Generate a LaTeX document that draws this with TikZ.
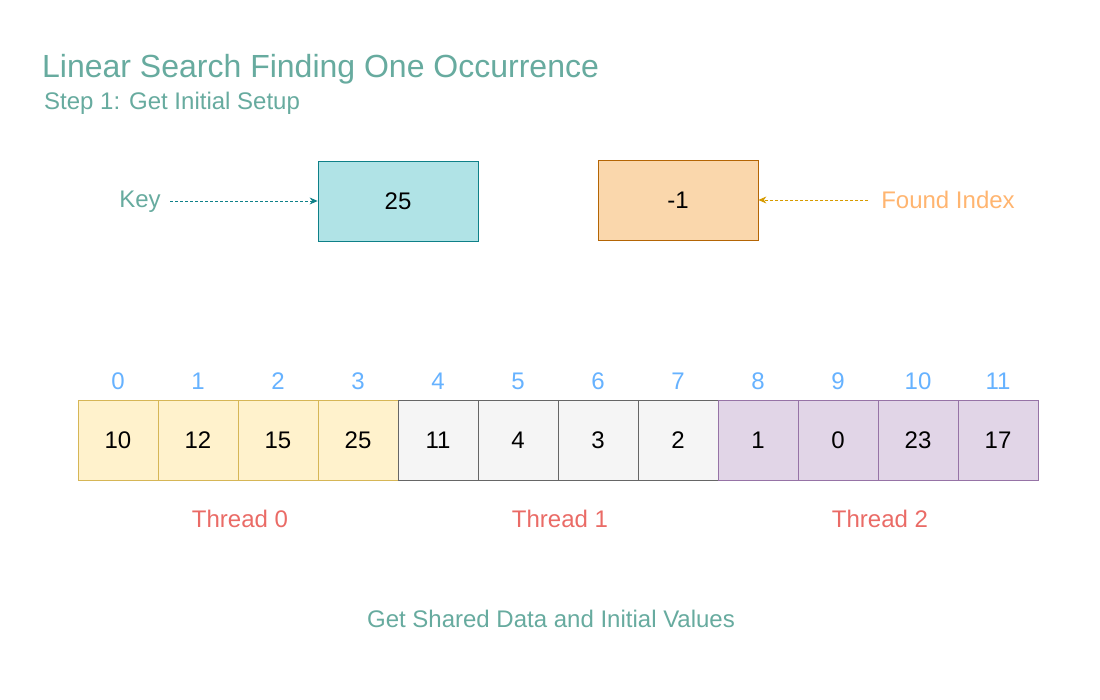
\documentclass[tikz,border=0pt]{standalone}
\usepackage{fontspec}
\setmainfont{Liberation Sans}
\usetikzlibrary{arrows.meta}
\definecolor{titlegreen}{HTML}{67AB9F}
\definecolor{idxblue}{HTML}{66B2FF}
\definecolor{thrred}{HTML}{EA6B66}
\definecolor{foundorange}{HTML}{FFB570}
\definecolor{keyfill}{HTML}{B0E3E6}
\definecolor{keydraw}{HTML}{0E8088}
\definecolor{fndfill}{HTML}{FAD7AC}
\definecolor{fnddraw}{HTML}{B46504}
\definecolor{fndarrow}{HTML}{D79B00}
\definecolor{yfill}{HTML}{FFF2CC}
\definecolor{ydraw}{HTML}{D6B656}
\definecolor{gfill}{HTML}{F5F5F5}
\definecolor{gdraw}{HTML}{666666}
\definecolor{pfill}{HTML}{E1D5E7}
\definecolor{pdraw}{HTML}{9673A6}
\tikzset{
  fnt/.style={font=\fontsize{24}{28}\selectfont},
  lbl/.style={fnt, inner sep=0pt, anchor=base},
  cell/.style={draw, minimum width=80pt, minimum height=80pt, inner sep=0pt, fnt, text=black, line width=0.8pt},
  ycell/.style={cell, fill=yfill, draw=ydraw},
  gcell/.style={cell, fill=gfill, draw=gdraw},
  pcell/.style={cell, fill=pfill, draw=pdraw},
  idx/.style={lbl, text=idxblue},
  thr/.style={lbl, text=thrred},
  bigbox/.style={draw, minimum width=160pt, minimum height=80pt, inner sep=0pt, fnt, text=black, line width=0.8pt},
  dasharrow/.style={densely dashed, line width=0.8pt, -{Stealth[length=8pt,width=7pt]}},
}
\begin{document}
\begin{tikzpicture}[x=1pt,y=-1pt]
\useasboundingbox[fill=white] (0,0) rectangle (1100,700);
\node[anchor=base west, text=titlegreen, font=\fontsize{32}{36}\selectfont, inner sep=0pt] (title) at (42,77.5) {Linear Search Finding One Occurrence};
\node[anchor=base west, text=titlegreen, fnt, inner sep=0pt] (sub) at (44,109.5) {Step 1: Get Initial Setup};

\node[bigbox, fill=keyfill, draw=keydraw] (key) at (398,201) {25};
\node[bigbox, fill=fndfill, draw=fnddraw] (found) at (678,200) {-1};
\node[lbl, text=titlegreen] (keylbl) at (140,207.5) {Key};
\node[lbl, text=foundorange] (fndlbl) at (948,208.5) {Found Index};
\coordinate (ks) at (170,201);
\coordinate (fs) at (868,200);
\draw[dasharrow, keydraw] (ks) -- (key.west);
\draw[dasharrow, fndarrow] (fs) -- (found.east);

\foreach \v [count=\i from 0] in {10,12,15,25,11,4,3,2,1,0,23,17} {
  \pgfmathtruncatemacro{\g}{\i/4}
  \ifcase\g \def\st{ycell}\or \def\st{gcell}\or \def\st{pcell}\fi
  \node[\st] (c\i) at ({118+80*\i},440) {\v};
  \node[idx] (i\i) at ({118+80*\i},389.5) {\i};
}
\node[thr] (t0) at (240,527.5) {Thread 0};
\node[thr] (t1) at (560,527.5) {Thread 1};
\node[thr] (t2) at (880,527.5) {Thread 2};
\node[lbl, text=titlegreen] (foot) at (551,627.5) {Get Shared Data and Initial Values};
\end{tikzpicture}
\end{document}
